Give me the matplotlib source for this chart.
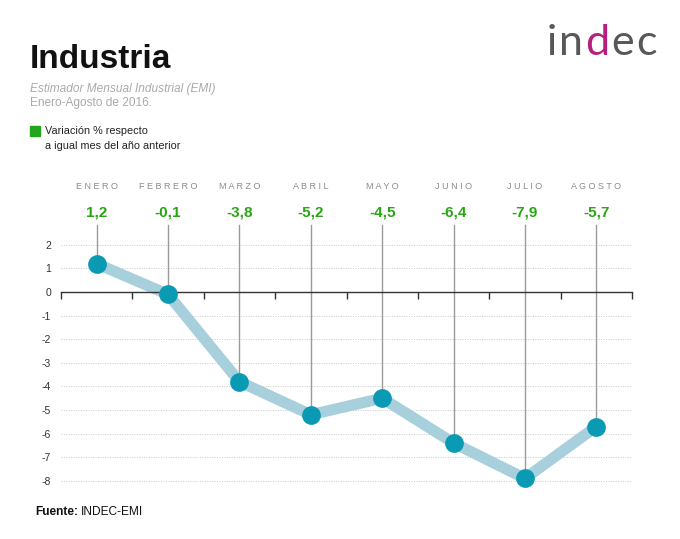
import matplotlib
matplotlib.use("Agg")
import matplotlib.pyplot as plt

plt.rcParams["font.family"] = ["Liberation Sans", "DejaVu Sans"]

months = ["ENERO", "FEBRERO", "MARZO", "ABRIL", "MAYO", "JUNIO", "JULIO", "AGOSTO"]
values = [1.2, -0.1, -3.8, -5.2, -4.5, -6.4, -7.9, -5.7]
yticks = [2, 1, 0, -1, -2, -3, -4, -5, -6, -7, -8]

INK = "#111111"
GREEN = "#2aa515"
LINE = "#a8d0dc"
DOT = "#0b9ab3"
GREY = "#9a9a9a"
W, H = 680, 539

fig = plt.figure(figsize=(6.8, 5.39), dpi=100)
fig.patch.set_facecolor("white")
ax = fig.add_axes([61 / W, 0.0861, 571 / W, 0.4816])

x = list(range(len(values)))
ax.set_xlim(-0.5, len(values) - 0.5)
ax.set_ylim(-8.5, 2.5)

# dotted grid
for t in yticks:
    if t != 0:
        ax.axhline(t, color="#c8c8c8", lw=0.7, ls=(0, (1, 1.5)), zorder=0)

# vertical drop lines from label to point
for xi, v in zip(x, values):
    ax.plot([xi, xi], [v, 2.84], color=GREY, lw=1.0, clip_on=False, zorder=1)

ax.plot(x, values, color=LINE, lw=8, solid_joinstyle="miter", zorder=2)
ax.plot(x, values, "o", color=DOT, ms=13.5, mec="none", zorder=3)

for xi, m, v in zip(x, months, values):
    ax.text(xi, 4.49, " ".join(m), ha="center", va="center", fontsize=6.5,
            color="#8a8a8a", clip_on=False)
    ax.text(xi, 3.35, f"{v:.1f}".replace(".", ","), ha="center", va="center",
            fontsize=11, fontweight="bold", color=GREEN, clip_on=False)

for s in ("top", "right", "left"):
    ax.spines[s].set_visible(False)
ax.spines["bottom"].set_position(("data", 0))
ax.spines["bottom"].set_color("#333333")
ax.spines["bottom"].set_linewidth(1.0)
ax.set_xticks([i - 0.5 for i in range(len(values) + 1)])
ax.set_xticklabels([])
ax.tick_params(axis="x", direction="out", length=5, color="#333333", width=1.0)
ax.set_yticks(yticks)
ax.set_yticklabels([str(t) for t in yticks], fontsize=7.5, color="#333333")
ax.tick_params(axis="y", length=0, pad=7)

# header
fig.text(30 / W, 1 - 60 / H, "Industria", fontsize=24, fontweight="bold",
         color=INK, va="center")
fig.text(30 / W, 1 - 89 / H, "Estimador Mensual Industrial (EMI)", fontsize=8.6,
         style="italic", color="#aaaaaa", va="center")
fig.text(30 / W, 1 - 103 / H, "Enero-Agosto de 2016.", fontsize=8.6,
         color="#aaaaaa", va="center")
fig.patches.append(plt.Rectangle((30 / W, 1 - 136 / H), 10 / W, 10 / H,
                                 transform=fig.transFigure, color="#22a61d"))
fig.text(45 / W, 1 - 131 / H, "Variación % respecto", fontsize=7.8,
         color="#222222", va="center")
fig.text(45 / W, 1 - 146 / H, "a igual mes del año anterior", fontsize=7.8,
         color="#222222", va="center")

renderer = fig.canvas.get_renderer()


def run_text(x0, y, pieces, gap=0, **kw):
    # draw text pieces one after another on the same baseline
    for s, kws in pieces:
        t = fig.text(x0 / W, y, s, **kw, **kws)
        x0 += t.get_window_extent(renderer).width + gap


logo_y = 1 - 43 / H
run_text(547, logo_y, [("i", {"color": "#58585a"}), ("n", {"color": "#58585a"}),
                       ("d", {"color": "#b5207f"}), ("e", {"color": "#58585a"}),
                       ("c", {"color": "#58585a"})],
         gap=2, fontsize=31, family="Lato", va="center")

run_text(35, 1 - 512 / H, [("Fuente:", {"fontweight": "bold"}), ("INDEC-EMI", {})],
         gap=3, fontsize=8.6, color=INK, va="center")

fig.savefig("out.png", dpi=100, facecolor="white")
